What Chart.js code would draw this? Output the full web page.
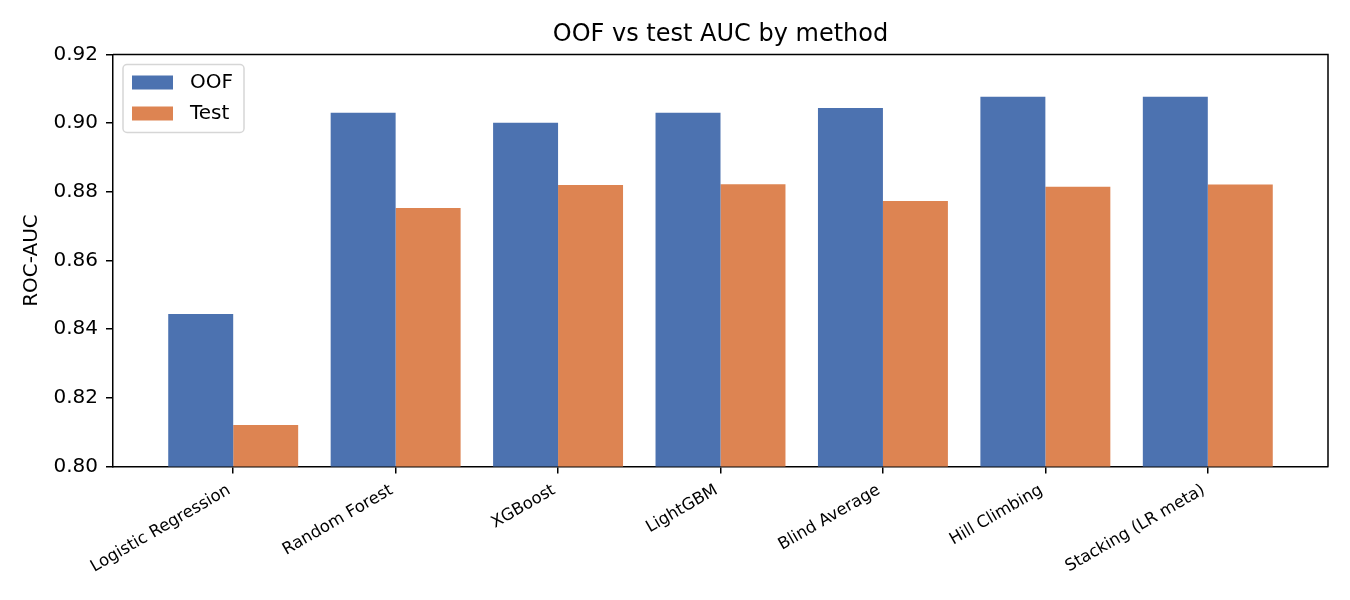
<!DOCTYPE html>
<html>
<head>
<meta charset="utf-8">
<script src="https://cdn.jsdelivr.net/npm/chart.js@4.4.1/dist/chart.umd.min.js"></script>
<style>
html,body{margin:0;padding:0;background:#fff;}
#wrap{position:relative;width:1350px;height:600px;}
</style>
</head>
<body>
<div id="wrap"><canvas id="c" width="1350" height="600"></canvas></div>
<script>
const categories = ['Logistic Regression','Random Forest','XGBoost','LightGBM','Blind Average','Hill Climbing','Stacking (LR meta)'];
const oofValues = [0.8444, 0.9030, 0.9001, 0.9030, 0.9044, 0.9077, 0.9077];
const testValues = [0.8121, 0.8753, 0.8820, 0.8822, 0.8773, 0.8815, 0.8821];
const yTicks = [0.80, 0.82, 0.84, 0.86, 0.88, 0.90, 0.92];
const seriesNames = ['OOF', 'Test'];
const titleText = 'OOF vs test AUC by method';
const yLabel = 'ROC-AUC';

const FONT = "'DejaVu Sans', sans-serif";
const BLUE = '#4C72B0';
const ORANGE = '#DD8452';

const legendAndSpines = {
  id: 'legendAndSpines',
  afterDraw(chart) {
    const ctx = chart.ctx;
    const a = chart.chartArea;
    ctx.save();
    // top & right spines
    ctx.strokeStyle = '#000';
    ctx.lineWidth = 1.5;
    ctx.beginPath();
    ctx.moveTo(a.left, a.top);
    ctx.lineTo(a.right, a.top);
    ctx.lineTo(a.right, a.bottom);
    ctx.stroke();
    // legend
    const bx = a.left + 10, by = a.top + 10, bw = 121, bh = 68, r = 4;
    ctx.beginPath();
    ctx.moveTo(bx + r, by);
    ctx.lineTo(bx + bw - r, by);
    ctx.arcTo(bx + bw, by, bx + bw, by + r, r);
    ctx.lineTo(bx + bw, by + bh - r);
    ctx.arcTo(bx + bw, by + bh, bx + bw - r, by + bh, r);
    ctx.lineTo(bx + r, by + bh);
    ctx.arcTo(bx, by + bh, bx, by + bh - r, r);
    ctx.lineTo(bx, by + r);
    ctx.arcTo(bx, by, bx + r, by, r);
    ctx.closePath();
    ctx.fillStyle = 'rgba(255,255,255,0.8)';
    ctx.fill();
    ctx.strokeStyle = 'rgba(204,204,204,0.8)';
    ctx.lineWidth = 1.5;
    ctx.stroke();
    ctx.font = '20px ' + FONT;
    ctx.textBaseline = 'middle';
    ctx.textAlign = 'left';
    chart.data.datasets.forEach((ds, i) => {
      const cy = by + 18 + i * 31;
      ctx.fillStyle = ds.backgroundColor;
      ctx.fillRect(bx + 9, cy - 7, 41, 14);
      ctx.fillStyle = '#000';
      ctx.fillText(ds.label, bx + 67, cy);
    });
    ctx.restore();
  }
};

const toPoints = vals => vals.map((v, i) => ({x: i, y: v}));

new Chart(document.getElementById('c'), {
  type: 'bar',
  data: {
    datasets: [
      {label: seriesNames[0], data: toPoints(oofValues), backgroundColor: BLUE, borderWidth: 0},
      {label: seriesNames[1], data: toPoints(testValues), backgroundColor: ORANGE, borderWidth: 0}
    ]
  },
  options: {
    responsive: false,
    animation: false,
    devicePixelRatio: 1,
    layout: {padding: {left: 0, right: 22, top: 0, bottom: 0}},
    datasets: {bar: {categoryPercentage: 0.8, barPercentage: 1.0}},
    plugins: {
      legend: {display: false},
      tooltip: {enabled: false},
      title: {
        display: true,
        text: titleText,
        fullSize: false,
        color: '#000',
        font: {family: FONT, size: 24, weight: 'normal'},
        padding: {top: 20.5, bottom: 5.2}
      }
    },
    scales: {
      x: {
        type: 'linear',
        min: -0.74,
        max: 6.74,
        z: 1,
        offset: false,
        afterBuildTicks: s => { s.ticks = categories.map((_, i) => ({value: i})); },
        afterFit: s => { s.height = 133.5; },
        ticks: {
          autoSkip: false,
          minRotation: 30,
          maxRotation: 30,
          padding: 7,
          labelOffset: -4,
          color: '#000',
          font: {family: FONT, size: 16.5},
          callback: v => categories[v]
        },
        grid: {display: true, offset: false, drawOnChartArea: false, drawTicks: true, tickLength: 7, color: '#000', lineWidth: 1.5},
        border: {display: true, color: '#000', width: 1.5}
      },
      y: {
        min: 0.80,
        max: 0.92,
        z: 1,
        afterBuildTicks: s => { s.ticks = yTicks.map(v => ({value: v})); },
        afterFit: s => { s.width = 113; },
        ticks: {
          padding: 8,
          color: '#000',
          font: {family: FONT, size: 20},
          callback: v => Number(v).toFixed(2)
        },
        title: {
          display: true,
          text: yLabel,
          color: '#000',
          font: {family: FONT, size: 20},
          padding: {top: 19.5, bottom: 0}
        },
        grid: {display: true, drawOnChartArea: false, drawTicks: true, tickLength: 7, color: '#000', lineWidth: 1.5},
        border: {display: true, color: '#000', width: 1.5}
      }
    }
  },
  plugins: [legendAndSpines]
});
</script>
</body>
</html>
